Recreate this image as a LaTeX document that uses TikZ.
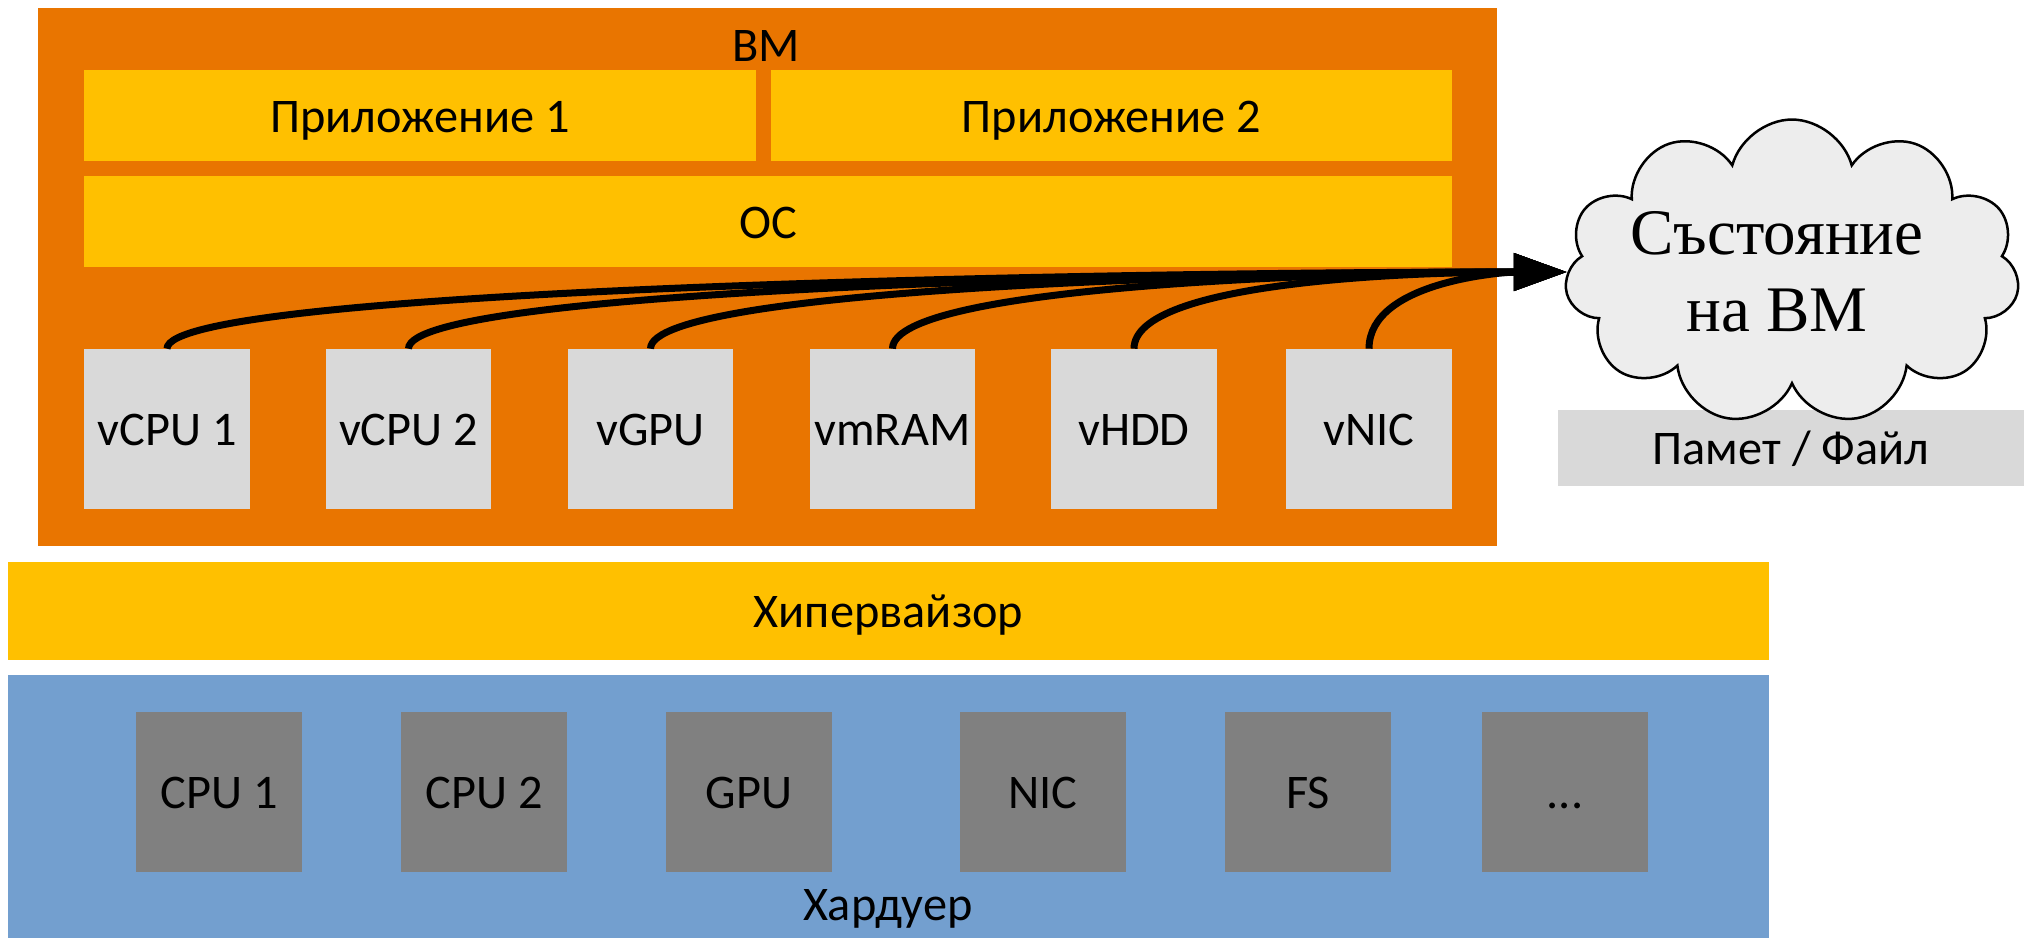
\documentclass[tikz,border=0pt]{standalone}
\usepackage{fontspec}
\setmainfont{Carlito}
\newfontfamily\cloudfont{Liberation Serif}
\usetikzlibrary{arrows.meta,shapes.symbols}
\definecolor{vmorange}{RGB}{233,117,0}
\definecolor{layeryellow}{RGB}{255,192,0}
\definecolor{hwblue}{RGB}{115,159,207}
\definecolor{devgray}{RGB}{217,217,217}
\definecolor{hwgray}{RGB}{128,128,128}
\definecolor{cloudgray}{RGB}{237,237,237}
\tikzset{
	lbl/.style={inner sep=0pt, text height=19pt, text depth=0pt, font=\fontsize{27.5}{33}\selectfont},
	layer/.style={lbl, fill=#1},
	vdev/.style={lbl, fill=devgray, minimum width=3.32cm, minimum height=3.2cm},
	hwdev/.style={lbl, fill=hwgray, minimum width=3.32cm, minimum height=3.2cm},
	flow/.style={line width=0.14cm, -{Triangle[length=1.06cm,width=0.72cm]}}
}

\begin{document}
\begin{tikzpicture}[x=0.02cm, y=-0.02cm]
			%%%%% START %%%%%
			\useasboundingbox (0,0) rectangle (2024,938);
			
			\node[layer=vmorange, minimum width=29.18cm, minimum height=10.76cm] (vm) at (767.5,277) {};
			\node[lbl, anchor=base] (vmlabel) at (766,61) {ВМ};
			
			\node[layer=layeryellow, minimum width=13.44cm, minimum height=1.82cm] (app1) at (420,115.5) {Приложение 1};
			\node[layer=layeryellow, minimum width=13.62cm, minimum height=1.82cm] (app2) at (1111.5,115.5) {Приложение 2};
			\node[layer=layeryellow, minimum width=27.36cm, minimum height=1.82cm] (os) at (768,221.5) {ОС};
			
			\node[vdev] (vcpu1) at (167,429) {vCPU 1};
			\node[vdev] (vcpu2) at (408.5,429) {vCPU 2};
			\node[vdev] (vgpu) at (650.5,429) {vGPU};
			\node[vdev] (vmram) at (892.5,429) {vmRAM};
			\node[vdev] (vhdd) at (1134,429) {vHDD};
			\node[vdev] (vnic) at (1369,429) {vNIC};
			
			\node[layer=devgray, minimum width=9.32cm, minimum height=1.52cm] (store) at (1791,448) {Памет / Файл};
			\node[cloud, cloud puffs=11, aspect=1.5, draw, line width=0.05cm, fill=cloudgray, minimum width=9.1cm, minimum height=6.1cm, inner sep=0pt] (state) at (1792,272) {};
			\node[align=center, inner sep=0pt, font=\cloudfont\fontsize{37}{44}\selectfont] (statelabel) at (1777,272) {Състояние\\на ВМ};
			
			\node[layer=layeryellow, minimum width=35.22cm, minimum height=1.96cm] (hyper) at (888.5,611) {Хипервайзор};
			
			\node[layer=hwblue, minimum width=35.22cm, minimum height=5.26cm] (hw) at (888.5,806.5) {};
			\node[lbl, anchor=base] (hwlabel) at (888,920) {Хардуер};
			
			\node[hwdev] (cpu1) at (219,792) {CPU 1};
			\node[hwdev] (cpu2) at (484,792) {CPU 2};
			\node[hwdev] (gpu) at (749,792) {GPU};
			\node[hwdev] (nic) at (1043,792) {NIC};
			\node[hwdev] (fs) at (1308,792) {FS};
			\node[hwdev] (more) at (1565,792) {...};
			
			\draw[flow] (vcpu1.north) .. controls +(0,-62) and +(-419,0) .. (state.west);
			\draw[flow] (vcpu2.north) .. controls +(0,-62) and +(-347,0) .. (state.west);
			\draw[flow] (vgpu.north) .. controls +(0,-63) and +(-274,0) .. (state.west);
			\draw[flow] (vmram.north) .. controls +(0,-65) and +(-202,0) .. (state.west);
			\draw[flow] (vhdd.north) .. controls +(0,-68) and +(-150,0) .. (state.west);
			\draw[flow] (vnic.north) .. controls +(0,-68) and +(-60,0) .. (state.west);
			
			%%%%% END %%%%%
\end{tikzpicture}
\end{document}
